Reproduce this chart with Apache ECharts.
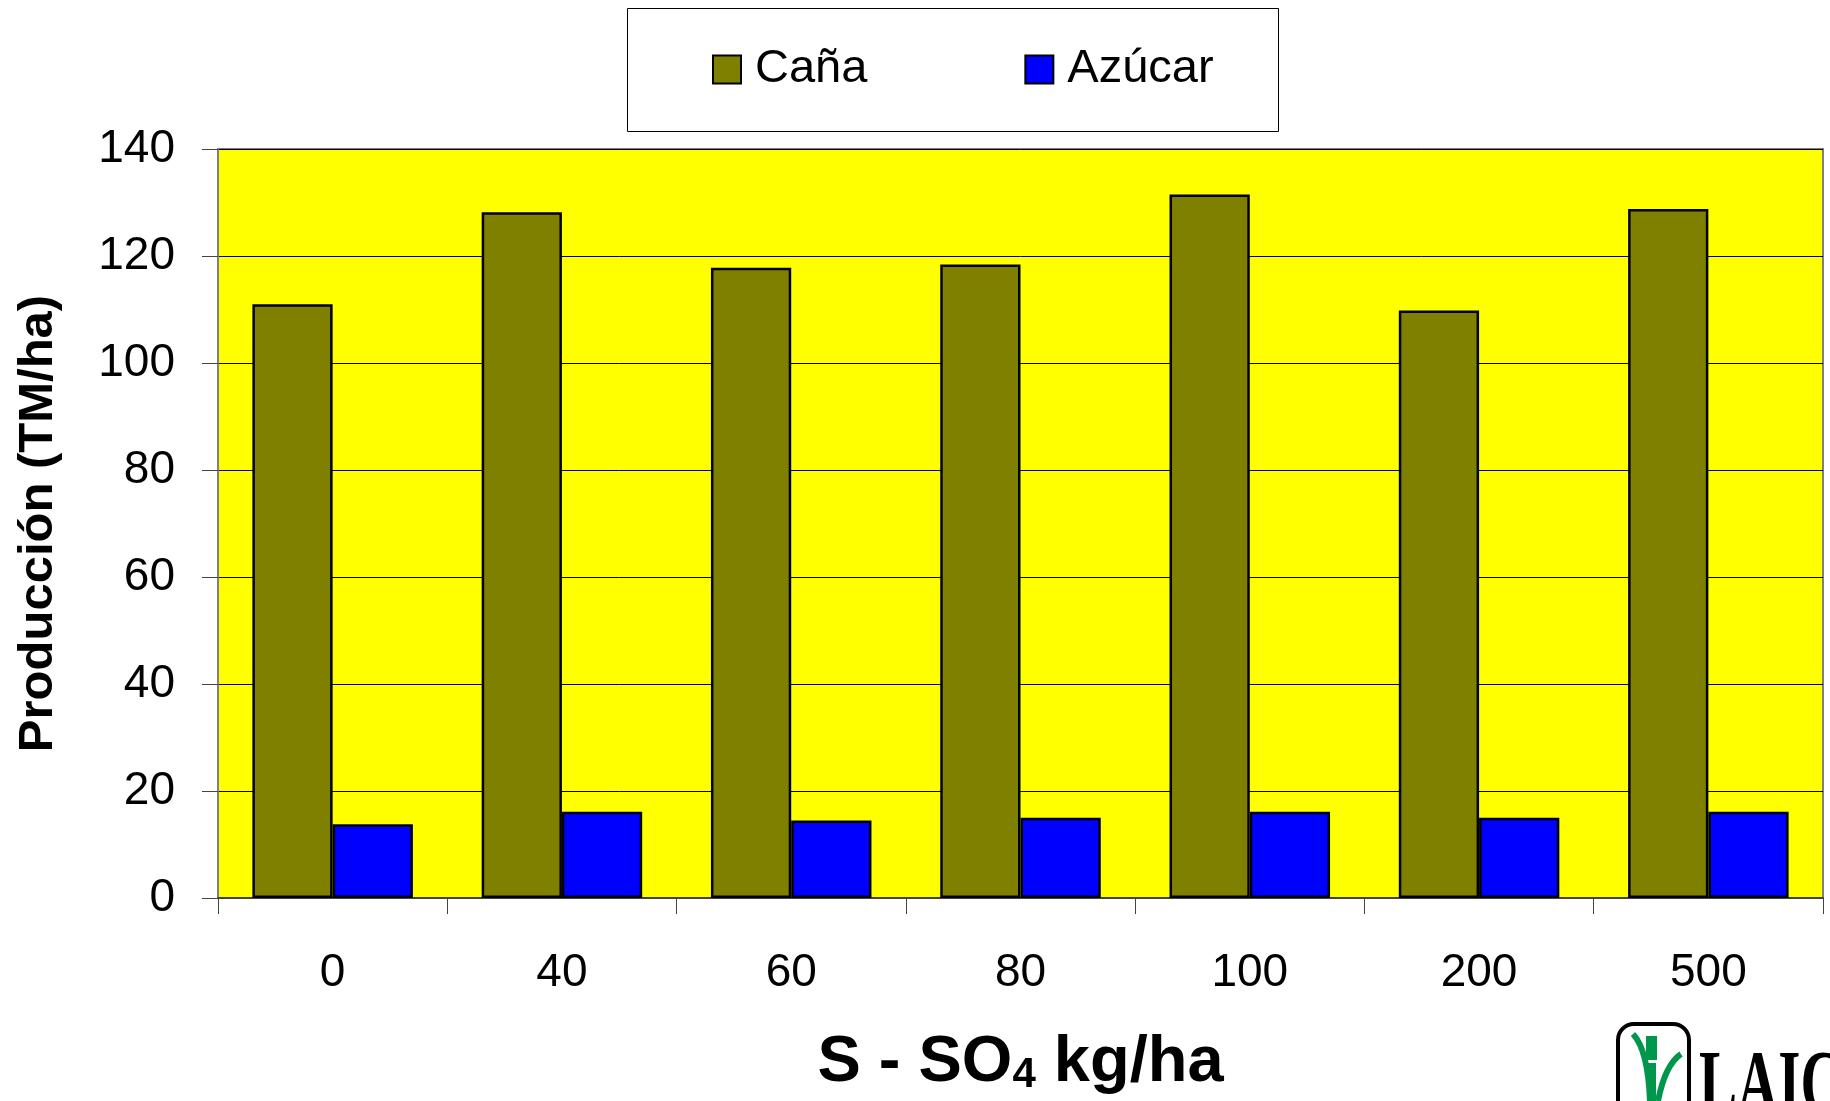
<!DOCTYPE html>
<html>
<head>
<meta charset="utf-8">
<script src="https://cdn.jsdelivr.net/npm/echarts@6/dist/echarts.min.js"></script>
<style>
html,body{margin:0;padding:0;background:#fff;}
#chart{width:1830px;height:1101px;}
</style>
</head>
<body>
<div id="chart"></div>
<script>
var categories = ['0', '40', '60', '80', '100', '200', '500'];
var canaValues = [111.0, 128.2, 117.8, 118.4, 131.5, 109.8, 128.8];
var azucarValues = [13.8, 16.1, 14.5, 15.0, 16.1, 15.0, 16.1];
var seriesNames = ['Caña', 'Azúcar'];
var yTicks = { min: 0, max: 140, interval: 20 };

var FONT = '"Liberation Sans", Arial, sans-serif';
var chart = echarts.init(document.getElementById('chart'), null, { renderer: 'canvas' });

var option = {
  animation: false,
  backgroundColor: '#ffffff',
  textStyle: { fontFamily: FONT, color: '#000' },
  grid: {
    left: 218, top: 149, right: 7, bottom: 200,
    show: true, backgroundColor: '#FFFF00',
    borderColor: '#808080', borderWidth: 2,
    containLabel: false
  },
  legend: {
    left: 707, top: 41,
    itemWidth: 28, itemHeight: 28, itemGap: 157,
    icon: 'rect',
    textStyle: { fontFamily: FONT, fontSize: 47, color: '#000', padding: [0, 0, 0, 9] },
    data: seriesNames
  },
  xAxis: {
    type: 'category',
    data: categories,
    boundaryGap: true,
    axisLine: { show: true, lineStyle: { color: '#444', width: 2 } },
    axisTick: { show: true, length: 16, inside: false, lineStyle: { color: '#444', width: 1 } },
    axisLabel: { fontFamily: FONT, fontSize: 46, color: '#000', margin: 52 },
    name: '{b|S - SO}{s|4}{b| kg/ha}',
    nameLocation: 'middle',
    nameGap: 132,
    nameTextStyle: {
      rich: {
        b: { fontFamily: FONT, fontSize: 65, fontWeight: 'bold', color: '#000' },
        s: { fontFamily: FONT, fontSize: 42, fontWeight: 'bold', color: '#000', padding: [24, 0, 0, 0] }
      }
    }
  },
  yAxis: {
    type: 'value',
    min: yTicks.min, max: yTicks.max, interval: yTicks.interval,
    axisLine: { show: true, lineStyle: { color: '#808080', width: 2 } },
    axisTick: { show: true, length: 16, inside: false, lineStyle: { color: '#444', width: 1 } },
    axisLabel: { fontFamily: FONT, fontSize: 46, color: '#000', margin: 43 },
    splitLine: { show: true, lineStyle: { color: '#000', width: 1 } },
    name: 'Producción (TM/ha)',
    nameLocation: 'middle',
    nameGap: 155,
    nameTextStyle: { fontFamily: FONT, fontSize: 49, fontWeight: 'bold', color: '#000' }
  },
  series: [
    {
      name: seriesNames[0], type: 'bar', data: canaValues,
      barGap: '0%', barCategoryGap: '30%',
      itemStyle: { color: '#808000', borderColor: '#000', borderWidth: 2.5 }
    },
    {
      name: seriesNames[1], type: 'bar', data: azucarValues,
      barGap: '0%', barCategoryGap: '30%',
      itemStyle: { color: '#0000FF', borderColor: '#000', borderWidth: 2.5 }
    }
  ],
  graphic: [
    { type: 'rect', left: 625, top: 6, z: -1, shape: { width: 651, height: 123 },
      style: { fill: 'none', stroke: '#000', lineWidth: 1 } },
    { type: 'rect', left: 1616, top: 1022, shape: { width: 71, height: 100, r: 16 },
      style: { fill: '#fff', stroke: '#000', lineWidth: 4 } },
    { type: 'polygon', shape: { points: [[1648,1063],[1656,1063],[1656,1101],[1648,1101]] },
      style: { fill: '#00964B' } },
    { type: 'polygon', shape: { points: [[1646,1036],[1657,1036],[1657,1060],[1646,1060]] },
      style: { fill: '#00964B' } },
    { type: 'bezierCurve', shape: { x1: 1633, y1: 1034, x2: 1650, y2: 1101, cpx1: 1648, cpy1: 1050 },
      style: { stroke: '#00964B', lineWidth: 6, fill: 'none' } },
    { type: 'bezierCurve', shape: { x1: 1681, y1: 1054, x2: 1658, y2: 1101, cpx1: 1665, cpy1: 1065 },
      style: { stroke: '#00964B', lineWidth: 6, fill: 'none' } },
    { type: 'text', x: 1699, y: 1043, scaleX: 0.62,
      style: { text: 'LAIC', fontFamily: '"Liberation Serif", "DejaVu Serif", serif', fontWeight: 'bold',
               fontSize: 92, fill: '#000' } }
  ]
};
chart.setOption(option);
</script>
</body>
</html>
